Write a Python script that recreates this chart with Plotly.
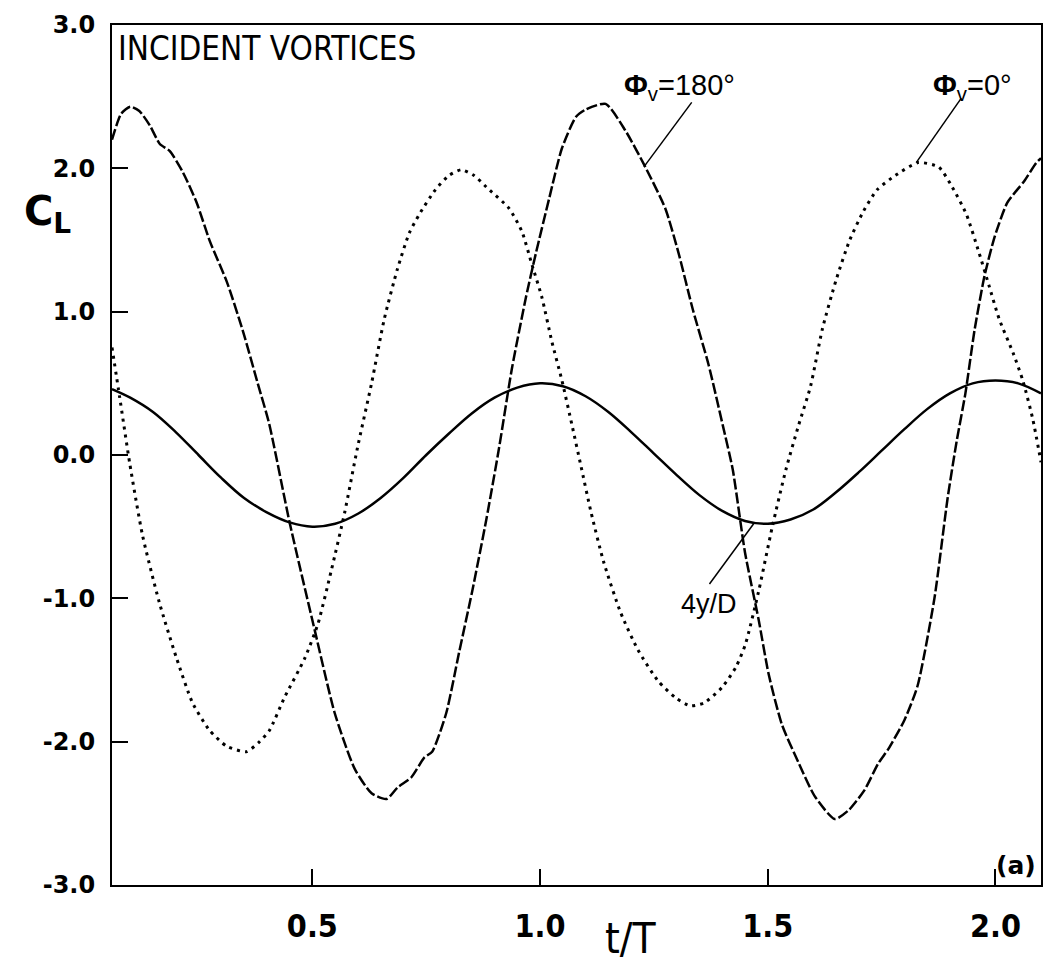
import plotly.graph_objects as go

# ---- data ----
t_180 = [0.060, 0.080, 0.100, 0.120, 0.143, 0.165, 0.187, 0.216, 0.246, 0.275,
         0.312, 0.347, 0.380, 0.405, 0.450, 0.505, 0.549, 0.593, 0.630, 0.663,
         0.687, 0.717, 0.746, 0.763, 0.794, 0.822, 0.851, 0.882, 0.910, 0.938,
         0.969, 0.991, 1.020, 1.048, 1.079, 1.100, 1.144, 1.188, 1.231, 1.275,
         1.304, 1.335, 1.370, 1.401, 1.423, 1.450, 1.480, 1.502, 1.531, 1.568,
         1.603, 1.647, 1.677, 1.712, 1.743, 1.765, 1.800, 1.829, 1.866, 1.895,
         1.915, 1.934, 1.954, 1.976, 1.998, 2.026, 2.063, 2.090, 2.100]
cl_180 = [2.20, 2.38, 2.43, 2.40, 2.30, 2.17, 2.12, 1.97, 1.76, 1.49,
          1.21, 0.87, 0.50, 0.22, -0.47, -1.22, -1.80, -2.19, -2.36, -2.40,
          -2.32, -2.25, -2.11, -2.07, -1.80, -1.38, -0.95, -0.45, 0.05, 0.60,
          1.10, 1.41, 1.79, 2.14, 2.36, 2.41, 2.45, 2.26, 2.01, 1.72,
          1.41, 1.02, 0.63, 0.21, -0.10, -0.68, -1.15, -1.53, -1.88, -2.15,
          -2.38, -2.54, -2.48, -2.34, -2.15, -2.05, -1.85, -1.61, -1.00, -0.30,
          0.10, 0.43, 0.87, 1.25, 1.52, 1.76, 1.91, 2.04, 2.07]

t_0 = [0.060, 0.077, 0.099, 0.127, 0.164, 0.202, 0.237, 0.274, 0.311, 0.355,
       0.384, 0.406, 0.439, 0.483, 0.512, 0.542, 0.571, 0.599, 0.630, 0.658,
       0.687, 0.713, 0.735, 0.770, 0.800, 0.827, 0.855, 0.882, 0.932, 0.960,
       0.982, 1.004, 1.026, 1.048, 1.070, 1.090, 1.112, 1.140, 1.177, 1.215,
       1.260, 1.300, 1.330, 1.360, 1.400, 1.430, 1.451, 1.480, 1.510, 1.540,
       1.567, 1.594, 1.620, 1.650, 1.680, 1.710, 1.740, 1.780, 1.830, 1.875,
       1.905, 1.936, 1.964, 1.986, 2.008, 2.039, 2.060, 2.082, 2.100]
cl_0 = [0.75, 0.40, -0.06, -0.56, -1.03, -1.42, -1.73, -1.92, -2.03, -2.07,
        -2.00, -1.92, -1.69, -1.42, -1.18, -0.80, -0.40, 0.05, 0.50, 0.95,
        1.30, 1.55, 1.68, 1.85, 1.95, 1.99, 1.95, 1.87, 1.72, 1.56,
        1.33, 1.10, 0.79, 0.52, 0.21, -0.08, -0.40, -0.75, -1.10, -1.36,
        -1.58, -1.70, -1.75, -1.73, -1.62, -1.48, -1.32, -0.95, -0.50, -0.10,
        0.20, 0.48, 0.88, 1.22, 1.50, 1.70, 1.85, 1.95, 2.04, 2.01,
        1.87, 1.68, 1.41, 1.18, 0.95, 0.71, 0.52, 0.25, -0.05]

t_y = [0.06, 0.10, 0.15, 0.20, 0.25, 0.30, 0.35, 0.40, 0.45, 0.50,
       0.55, 0.60, 0.65, 0.70, 0.75, 0.80, 0.85, 0.90, 0.95, 1.00,
       1.05, 1.10, 1.15, 1.20, 1.25, 1.30, 1.35, 1.40, 1.45, 1.50,
       1.55, 1.60, 1.65, 1.70, 1.75, 1.80, 1.85, 1.90, 1.95, 2.00,
       2.05, 2.10]
y_4D = [0.46, 0.40, 0.30, 0.16, 0.00, -0.16, -0.30, -0.40, -0.47, -0.50,
        -0.48, -0.41, -0.30, -0.16, 0.00, 0.15, 0.29, 0.40, 0.47, 0.50,
        0.48, 0.41, 0.30, 0.16, 0.01, -0.14, -0.28, -0.39, -0.46, -0.48,
        -0.45, -0.38, -0.26, -0.12, 0.03, 0.18, 0.32, 0.43, 0.50, 0.52,
        0.50, 0.43]

x_ticks = [0.5, 1.0, 1.5, 2.0]
x_ticklabels = ["0.5", "1.0", "1.5", "2.0"]
y_ticks = [-3, -2, -1, 0, 1, 2, 3]
y_ticklabels = ["-3.0", "-2.0", "-1.0", "0.0", "1.0", "2.0", "3.0"]

# curve labels: (text, label position, curve point, leader tail)
labels = [
    ("<b>Φ</b><sub>v</sub>=180°", (1.307, 2.57), (1.228, 2.01), (1.333, 2.46)),
    ("<b>Φ</b><sub>v</sub>=0°", (1.949, 2.57), (1.826, 2.04), (1.925, 2.49)),
    ("4y/D", (1.372, -1.04), (1.469, -0.48), (1.372, -0.90)),
]

NARROW = "Liberation Sans Narrow, DejaVu Sans Condensed, Liberation Sans, sans-serif"
SANS = "Liberation Sans, Arial, sans-serif"

fig = go.Figure()
fig.add_trace(go.Scatter(x=t_180, y=cl_180, mode="lines",
                         line=dict(color="black", width=2.5, dash="11px,3px",
                                   shape="spline", smoothing=0.6),
                         showlegend=False, hoverinfo="skip"))
fig.add_trace(go.Scatter(x=t_0, y=cl_0, mode="lines",
                         line=dict(color="black", width=3, dash="3px,5px",
                                   shape="spline", smoothing=0.6),
                         showlegend=False, hoverinfo="skip"))
fig.add_trace(go.Scatter(x=t_y, y=y_4D, mode="lines",
                         line=dict(color="black", width=2.5, shape="spline"),
                         showlegend=False, hoverinfo="skip"))

shapes = []
annotations = []
for i, (txt, (lx, ly), (px, py), (tx, ty)) in enumerate(labels):
    shapes.append(dict(type="line", xref="x", yref="y", x0=px, y0=py, x1=tx, y1=ty,
                       line=dict(color="black", width=1.5)))
    annotations.append(dict(x=lx, y=ly, xref="x", yref="y", showarrow=False, text=txt,
                            font=dict(family=SANS, size=29 if i < 2 else 27, color="black")))

annotations += [
    dict(x=0.004, y=0.998, xref="paper", yref="paper", xanchor="left", yanchor="top",
         showarrow=False, text="INCIDENT VORTICES",
         font=dict(family=NARROW, size=33, color="black")),
    dict(x=0.997, y=0.004, xref="paper", yref="paper", xanchor="right", yanchor="bottom",
         showarrow=False, text="<b>(a)</b>",
         font=dict(family="DejaVu Sans", size=25, color="black")),
    dict(x=-0.097, y=0.78, xref="paper", yref="paper", xanchor="left", yanchor="middle",
         showarrow=False, text="<b>C</b><sub><b>L</b></sub>",
         font=dict(family="DejaVu Sans", size=40, color="black")),
    dict(x=1.2, y=-0.062, xref="x", yref="paper", xanchor="center", yanchor="middle",
         showarrow=False, text="t/T",
         font=dict(family=NARROW, size=42, color="black")),
]

fig.update_layout(
    width=1048, height=965, autosize=False,
    margin=dict(l=112, r=5, t=25, b=80),
    paper_bgcolor="white", plot_bgcolor="white",
    annotations=annotations, shapes=shapes,
    xaxis=dict(range=[0.06, 2.1], tickvals=x_ticks, ticktext=x_ticklabels,
               ticks="inside", ticklen=16, tickwidth=2, tickcolor="black",
               showline=True, mirror=True, linecolor="black", linewidth=2,
               showgrid=False, zeroline=False, ticklabelstandoff=12,
               tickfont=dict(family=NARROW, size=32, color="black", weight="bold")),
    yaxis=dict(range=[-3, 3], tickvals=y_ticks, ticktext=y_ticklabels,
               ticks="inside", ticklen=16, tickwidth=2, tickcolor="black",
               showline=True, mirror=True, linecolor="black", linewidth=2,
               showgrid=False, zeroline=False, ticklabelstandoff=10,
               tickfont=dict(family="DejaVu Sans", size=24, color="black", weight="bold")),
)

fig.write_html("out.html")
